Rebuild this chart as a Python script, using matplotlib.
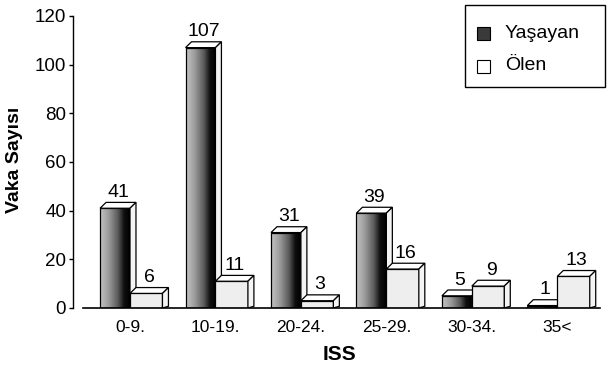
import matplotlib
matplotlib.use('Agg')
import matplotlib.pyplot as plt
import numpy as np
from matplotlib.patches import Rectangle, Polygon
from matplotlib.colors import LinearSegmentedColormap

categories = ['0-9.', '10-19.', '20-24.', '25-29.', '30-34.', '35<']
yasayan = [41, 107, 31, 39, 5, 1]
olen = [6, 11, 3, 16, 9, 13]
series_names = ['Yaşayan', 'Ölen']
yticks = [0, 20, 40, 60, 80, 100, 120]

plt.rcParams['font.family'] = ['Liberation Sans', 'DejaVu Sans']

W, H = 609, 370
fig = plt.figure(figsize=(W / 100, H / 100), dpi=100)
ax = fig.add_axes([73 / W, 62 / H, 527 / W, 292 / H])
ax.set_xlim(-0.667, 5.5)
ax.set_ylim(0, 120)

dx, dy = 0.07, 2.4
w_y, w_o = 0.35, 0.38
cmap_y = LinearSegmentedColormap.from_list(
    'yas', [(0, '#c4c4c4'), (0.3, '#9a9a9a'), (0.6, '#5a5a5a'), (0.8, '#101010'), (1, '#000000')])
grad = np.linspace(0, 1, 256).reshape(1, -1)


def bar3d(x0, w, h, front, z):
    if front == 'grad':
        ax.imshow(grad, extent=[x0, x0 + w, 0, h], aspect='auto', cmap=cmap_y,
                  zorder=z, interpolation='bilinear')
        ax.add_patch(Rectangle((x0, 0), w, h, facecolor='none', edgecolor='black', lw=0.9, zorder=z + 0.1))
    else:
        ax.add_patch(Rectangle((x0, 0), w, h, facecolor=front, edgecolor='black', lw=0.9, zorder=z + 0.1))
    top = [(x0, h), (x0 + w, h), (x0 + w + dx, h + dy), (x0 + dx, h + dy)]
    side = [(x0 + w, 0), (x0 + w + dx, dy * 0.3), (x0 + w + dx, h + dy), (x0 + w, h)]
    ax.add_patch(Polygon(top, closed=True, facecolor='white', edgecolor='black', lw=0.9, zorder=z + 0.2))
    ax.add_patch(Polygon(side, closed=True, facecolor='#f4f4f4', edgecolor='black', lw=0.9, zorder=z + 0.2))


for i, (vy, vo) in enumerate(zip(yasayan, olen)):
    xy = i - w_y
    xo = i
    bar3d(xy, w_y, vy, 'grad', 2 + i)
    bar3d(xo, w_o, vo, '#eeeeee', 2.5 + i)
    ax.text(xy + w_y / 2 + dx / 2, vy + dy + 0.6, str(vy), ha='center', va='bottom', fontsize=14, zorder=10)
    ax.text(xo + w_o / 2 + dx / 2, vo + dy + 0.6, str(vo), ha='center', va='bottom', fontsize=14, zorder=10)

ax.plot([-0.55, 5.5], [0, 0], color='black', lw=1.2, clip_on=False, zorder=20)

for s in ['top', 'right', 'bottom']:
    ax.spines[s].set_visible(False)
ax.spines['left'].set_linewidth(1.0)
ax.set_yticks(yticks)
ax.set_yticklabels([str(t) for t in yticks])
ax.tick_params(axis='y', direction='out', length=3, width=1, labelsize=13.5, pad=2)
ax.set_xticks(range(len(categories)))
ax.set_xticklabels(categories)
ax.tick_params(axis='x', length=0, labelsize=12.5, pad=9)

fig.text(15 / W, 1 - 160 / H, 'Vaka Sayısı', rotation=90, fontweight='bold', fontsize=14,
         ha='center', va='center')
fig.text(340 / W, 1 - 355 / H, 'ISS', fontweight='bold', fontsize=15, ha='center', va='center')

# legend
fig.patches.append(Rectangle((465 / W, 1 - 87 / H), 140 / W, 82 / H, transform=fig.transFigure,
                             facecolor='white', edgecolor='black', lw=1.0))
fig.patches.append(Rectangle((477 / W, 1 - 40 / H), 13 / W, 13 / H, transform=fig.transFigure,
                             facecolor='#3a3a3a', edgecolor='black', lw=0.8))
fig.patches.append(Rectangle((477 / W, 1 - 73 / H), 13 / W, 13 / H, transform=fig.transFigure,
                             facecolor='white', edgecolor='black', lw=0.8))
fig.text(505 / W, 1 - 33 / H, series_names[0], fontsize=14, ha='left', va='center')
fig.text(505 / W, 1 - 66 / H, series_names[1], fontsize=14, ha='left', va='center')

fig.savefig('out.png', dpi=100)
